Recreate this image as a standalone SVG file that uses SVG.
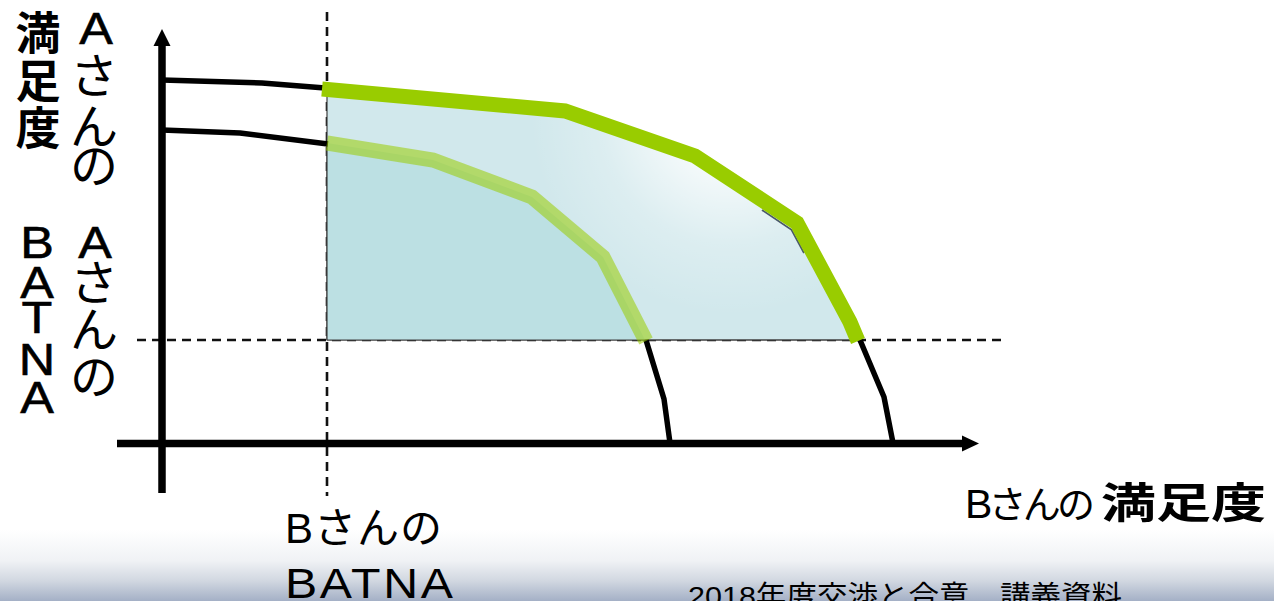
<svg xmlns="http://www.w3.org/2000/svg" width="1274" height="601" viewBox="0 0 1274 601">
<style>
.lbl{font-family:'Liberation Sans','Noto Sans CJK JP',sans-serif;fill:#000;}
.v{text-anchor:middle;}
.b{font-weight:bold;}
.lat{stroke:#000;stroke-width:0.6;}
.dash{fill:none;stroke:#111;stroke-width:2.6;stroke-dasharray:9 6;}
.blk{fill:none;stroke:#000;stroke-width:5.5;stroke-linejoin:round;}
.axis{fill:none;stroke:#000;stroke-width:7.5;}
</style>
<defs>
<linearGradient id="bg" x1="0" y1="530" x2="0" y2="601" gradientUnits="userSpaceOnUse">
<stop offset="0" stop-color="#ffffff"/>
<stop offset="0.43" stop-color="#f0f2f5"/>
<stop offset="0.71" stop-color="#d2d8e1"/>
<stop offset="1" stop-color="#a4b0c6"/>
</linearGradient>
<radialGradient id="fade" cx="730" cy="115" r="200" gradientUnits="userSpaceOnUse">
<stop offset="0" stop-color="#fff" stop-opacity="0.95"/>
<stop offset="0.3" stop-color="#fff" stop-opacity="0.75"/>
<stop offset="0.65" stop-color="#fff" stop-opacity="0.25"/>
<stop offset="1" stop-color="#fff" stop-opacity="0"/>
</radialGradient>
</defs>
<rect width="1274" height="601" fill="#fff"/>
<rect id="footer-band" x="0" y="530" width="1274" height="71" fill="url(#bg)"/>

<g id="guides">
<line class="dash" x1="327" y1="12" x2="327" y2="496"/>
<line class="dash" x1="137" y1="340" x2="1006" y2="340"/>
</g>

<g id="region">
<polygon points="327,89 565,111 695,156 797,223 850,322 858,340 327,340" fill="#d1e8ec" stroke="#404040" stroke-width="1.2"/>
<polygon points="327,89 565,111 695,156 797,223 850,322 858,340 327,340" fill="url(#fade)"/>
<polygon points="327,143 433,160 532,197 603,257 645,340 327,340" fill="#bce0e3"/>
<line x1="327" y1="143" x2="327" y2="340" stroke="#404040" stroke-width="1.2"/>
<line x1="327" y1="340" x2="860" y2="340" stroke="#404040" stroke-width="1"/>
</g>

<g id="connectors">
<polyline class="blk" points="162,80 262,83 325,88"/>
<polyline class="blk" points="162,130 240,133 328,144"/>
<polyline class="blk" points="646,340 664,399 670,443"/>
<polyline class="blk" points="860,340 884,397 893,443"/>
<polyline points="762,210 791.5,229.8 804,253" fill="none" stroke="#4a5968" stroke-width="1.8"/>
<polyline points="327,143 433,160 532,197 603,257 646,341" fill="none" stroke="#99cc00" stroke-opacity="0.55" stroke-width="15" stroke-linejoin="miter"/>
<polyline points="322,89 565,111 695,156 797,223 850,322 858,341" fill="none" stroke="#99cc00" stroke-width="15" stroke-linejoin="miter"/>
</g>

<g id="axes">
<line class="axis" x1="162" y1="44" x2="162" y2="493"/>
<polygon points="162,29 170.5,46 153.5,46" fill="#000"/>
<line class="axis" x1="117" y1="443.5" x2="964" y2="443.5"/>
<polygon points="979,443.5 962,435.5 962,451.5" fill="#000"/>
</g>

<g id="label-a-satisfaction">
<text class="lbl v b" font-size="45" x="38" y="50">満</text>
<text class="lbl v b" font-size="45" x="38" y="98">足</text>
<text class="lbl v b" font-size="45" x="38" y="145">度</text>
<text class="lbl v lat" font-size="45" transform="translate(96 44) scale(1.12 1)">A</text>
<text class="lbl v" font-size="48" x="94" y="93">さ</text>
<text class="lbl v" font-size="48" x="94" y="144">ん</text>
<text class="lbl v" font-size="48" x="94" y="183">の</text>
</g>

<g id="label-a-batna">
<text class="lbl v lat" font-size="45" transform="translate(37 258) scale(1.12 1)">B</text>
<text class="lbl v lat" font-size="45" transform="translate(37 298) scale(1.12 1)">A</text>
<text class="lbl v lat" font-size="45" transform="translate(37 333) scale(1.12 1)">T</text>
<text class="lbl v lat" font-size="45" transform="translate(37 375) scale(1.12 1)">N</text>
<text class="lbl v lat" font-size="45" transform="translate(37 413) scale(1.12 1)">A</text>
<text class="lbl v lat" font-size="45" transform="translate(95 258) scale(1.12 1)">A</text>
<text class="lbl v" font-size="48" x="94" y="300">さ</text>
<text class="lbl v" font-size="48" x="94" y="347">ん</text>
<text class="lbl v" font-size="48" x="94" y="394">の</text>
</g>

<g id="label-b-batna">
<text class="lbl" font-size="42" x="285" y="543" textLength="157">Bさんの</text>
<text class="lbl" font-size="42" transform="translate(285 598) scale(1.15 1)" textLength="146">BATNA</text>
</g>

<g id="label-b-satisfaction">
<text class="lbl" x="965" y="518" textLength="130"><tspan font-size="41">B</tspan><tspan font-size="38">さんの</tspan></text>
<text class="lbl b" font-size="42" x="1101" y="518" textLength="165" lengthAdjust="spacingAndGlyphs">満足度</text>
</g>

<g id="footer">
<text class="lbl" font-size="28" x="688" y="606" textLength="434" lengthAdjust="spacingAndGlyphs">2018年度交渉と合意　講義資料</text>
</g>
</svg>
